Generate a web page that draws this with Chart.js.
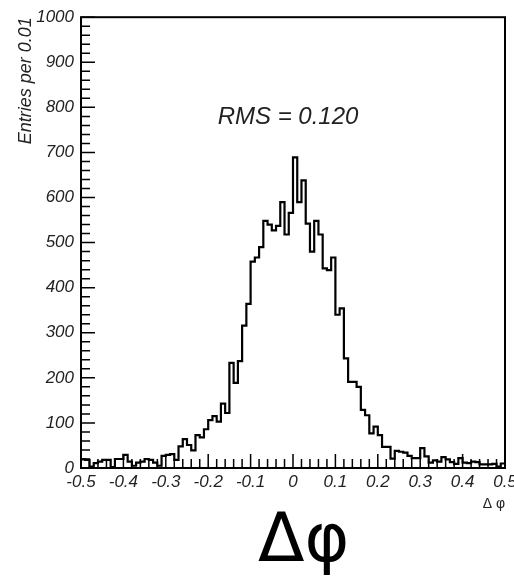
<!DOCTYPE html>
<html>
<head>
<meta charset="utf-8">
<script src="https://cdn.jsdelivr.net/npm/chart.js@4.4.1/dist/chart.umd.min.js"></script>
<style>
  body { margin: 0; background: #fff; }
  #wrap { position: relative; width: 514px; height: 576px; overflow: hidden; }
  #rms { position: absolute; left: 188px; width: 200px; top: 104px; text-align: center;
         font: italic 24px/24px "Liberation Sans", Arial, sans-serif; color: #222; }
  #big { position: absolute; left: 258px; top: 504px; white-space: nowrap;
         font: 68px/68px "DejaVu Sans", sans-serif; color: #000; }
</style>
</head>
<body>
<div id="wrap">
  <canvas id="dphiChart" width="514" height="576"></canvas>
  <div id="rms">RMS = 0.120</div>
  <div id="big">Δφ</div>
</div>
<script>
// Delta phi histogram: 100 bins of 0.01 between -0.5 and 0.5
var binStart = -0.5;
var binWidth = 0.01;
var entries = [
  19, 18, 3, 11, 14, 18, 18, 2, 20, 20,
  29, 14, 5, 12, 14, 20, 18, 12, 5, 27,
  29, 31, 18, 48, 64, 51, 39, 73, 68, 86,
  106, 115, 103, 143, 122, 233, 189, 237, 316, 364,
  458, 467, 490, 548, 540, 527, 537, 590, 518, 566,
  689, 590, 638, 542, 480, 548, 518, 443, 439, 467,
  340, 354, 243, 191, 191, 180, 129, 117, 77, 92,
  73, 47, 47, 21, 38, 36, 34, 27, 22, 22,
  44, 26, 12, 17, 14, 24, 19, 13, 9, 22,
  12, 11, 14, 13, 8, 8, 8, 9, 3, 10
];
var xTicks = [-0.5, -0.4, -0.3, -0.2, -0.1, 0, 0.1, 0.2, 0.3, 0.4, 0.5];
var yTicks = [0, 100, 200, 300, 400, 500, 600, 700, 800, 900, 1000];
var xMinorStep = 0.02;
var yMinorStep = 20;

// one point per bin low edge, plus the high edge of the last bin
var points = entries.map(function (v, i) {
  return { x: binStart + i * binWidth, y: v };
});
points.push({ x: binStart + entries.length * binWidth, y: entries[entries.length - 1] });

// ROOT style frame with ticks pointing into the plot
var frameTicks = {
  id: 'frameTicks',
  afterDraw: function (chart) {
    var ctx = chart.ctx;
    var a = chart.chartArea;
    var xs = chart.scales.x;
    var ys = chart.scales.y;
    ctx.save();
    ctx.strokeStyle = '#000';
    ctx.lineWidth = 1.5;
    ctx.beginPath();
    var n = Math.round((xs.max - xs.min) / xMinorStep);
    for (var i = 0; i <= n; i++) {
      var px = xs.getPixelForValue(xs.min + i * xMinorStep);
      ctx.moveTo(px, a.bottom);
      ctx.lineTo(px, a.bottom - 9);
    }
    xTicks.forEach(function (v) {
      var px = xs.getPixelForValue(v);
      ctx.moveTo(px, a.bottom);
      ctx.lineTo(px, a.bottom - 14);
    });
    var m = Math.round((ys.max - ys.min) / yMinorStep);
    for (var j = 0; j <= m; j++) {
      var py = ys.getPixelForValue(ys.min + j * yMinorStep);
      ctx.moveTo(a.left, py);
      ctx.lineTo(a.left + 9, py);
    }
    yTicks.forEach(function (v) {
      var py = ys.getPixelForValue(v);
      ctx.moveTo(a.left, py);
      ctx.lineTo(a.left + 14, py);
    });
    ctx.stroke();
    ctx.lineWidth = 2;
    ctx.strokeRect(a.left, a.top, a.right - a.left, a.bottom - a.top);
    ctx.restore();
  }
};

var labelFont = { family: '"Liberation Sans", Arial, sans-serif', size: 17, style: 'italic' };

var ctx = document.getElementById('dphiChart').getContext('2d');
var dphiChart = new Chart(ctx, {
  type: 'line',
  data: {
    datasets: [{
      data: points,
      stepped: 'before',
      borderColor: '#000',
      borderWidth: 2.2,
      pointRadius: 0,
      fill: false
    }]
  },
  options: {
    responsive: false,
    animation: false,
    layout: { padding: { top: 15, right: 9, left: 0, bottom: 0 } },
    plugins: { legend: { display: false }, tooltip: { enabled: false } },
    scales: {
      x: {
        type: 'linear',
        min: -0.5,
        max: 0.5,
        grid: { display: false, drawTicks: false },
        border: { display: false },
        afterBuildTicks: function (s) { s.ticks = xTicks.map(function (v) { return { value: v }; }); },
        afterFit: function (s) { s.height = 108; s.paddingLeft = 0; s.paddingRight = 0; },
        ticks: {
          autoSkip: false,
          maxRotation: 0,
          padding: 4,
          color: '#222',
          font: labelFont,
          callback: function (v) { return String(v); }
        },
        title: {
          display: true,
          text: 'Δ φ',
          align: 'end',
          color: '#222',
          font: { family: '"Liberation Sans", Arial, sans-serif', size: 14 },
          padding: { top: 0, bottom: 63 }
        }
      },
      y: {
        min: 0,
        max: 1000,
        grid: { display: false, drawTicks: false },
        border: { display: false },
        afterBuildTicks: function (s) { s.ticks = yTicks.map(function (v) { return { value: v }; }); },
        afterFit: function (s) { s.width = 81; },
        ticks: {
          padding: 7,
          color: '#222',
          font: labelFont,
          callback: function (v) { return String(v); }
        },
        title: {
          display: true,
          text: 'Entries per 0.01',
          align: 'end',
          color: '#222',
          font: { family: '"Liberation Sans", Arial, sans-serif', size: 18, style: 'italic' },
          padding: { top: 15, bottom: 0 }
        }
      }
    }
  },
  plugins: [frameTicks]
});
</script>
</body>
</html>
